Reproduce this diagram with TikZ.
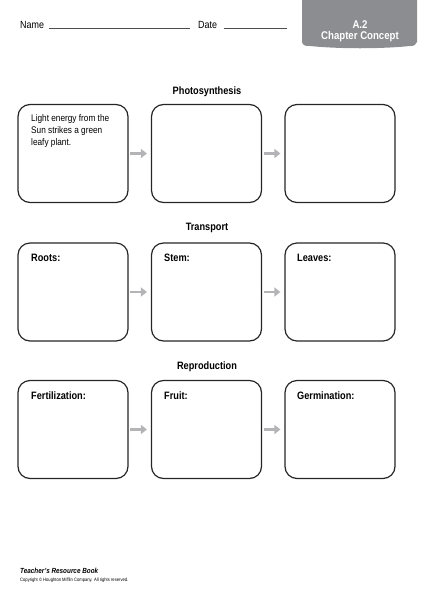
\documentclass[tikz,border=0pt]{standalone}
\usepackage{fontspec}
\setmainfont[FakeStretch=0.86]{Liberation Sans}
\usepackage{tikz}
\usetikzlibrary{arrows.meta,positioning,calc}

\definecolor{tabgray}{HTML}{8C8D90}
\definecolor{arrowgray}{HTML}{B4B4B6}

\begin{document}
\begin{tikzpicture}[x=1pt, y=-1pt,
    every node/.style={font=\fontsize{10.4}{12}\selectfont, inner sep=0pt},
    stagebox/.style={draw=black!85, line width=1.2pt, rounded corners=12pt, minimum width=110pt, minimum height=98pt},
    boxlabel/.style={anchor=west, font=\fontsize{10.7}{12}\selectfont\bfseries},
    rowtitle/.style={font=\fontsize{10.7}{12}\selectfont\bfseries},
    flow/.style={-{Triangle[length=6pt,width=9pt]}, line width=2.8pt, draw=arrowgray, shorten <=1.5pt, shorten >=4pt}]
        \useasboundingbox (0,0) rectangle (431,600);

        % Header
        \node[anchor=west] (name) at (20,25) {Name};
        \draw[line width=0.5pt, black!70] (49,28) -- (190,28);
        \node[anchor=west] (date) at (198,25) {Date};
        \draw[line width=0.5pt, black!70] (224,28) -- (287,28);

        % Chapter tab
        \fill[tabgray] (302,0) -- (302,42) .. controls (303,46) and (306,46) .. (310,46)
            .. controls (340,49) and (380,49) .. (410,46)
            .. controls (414,46) and (416,45) .. (417,42) -- (417,0) -- cycle;
        \node[text=white, font=\fontsize{11.2}{12}\selectfont\bfseries] (chap) at (360,25) {A.2};
        \node[text=white, font=\fontsize{11.2}{12}\selectfont\bfseries] (concept) at (360,37) {Chapter Concept};

        % Photosynthesis
        \node[rowtitle] (photo) at (207,92) {Photosynthesis};
        \node[stagebox] (p1) at (73,153.5) {};
        \node[stagebox] (p2) at (206.5,153.5) {};
        \node[stagebox] (p3) at (340,153.5) {};
        \node[anchor=north west, align=left, font=\fontsize{9.6}{12}\selectfont] (light) at (31,114)
            {Light energy from the\\Sun strikes a green\\leafy plant.};

        % Transport
        \node[rowtitle] (trans) at (207,228) {Transport};
        \node[stagebox] (t1) at (73,292) {};
        \node[stagebox] (t2) at (206.5,292) {};
        \node[stagebox] (t3) at (340,292) {};
        \node[boxlabel] (roots) at (31,258) {Roots:};
        \node[boxlabel] (stem) at (164,258) {Stem:};
        \node[boxlabel] (leaves) at (297,258) {Leaves:};

        % Reproduction
        \node[rowtitle] (repro) at (207,367) {Reproduction};
        \node[stagebox] (r1) at (73,429.5) {};
        \node[stagebox] (r2) at (206.5,429.5) {};
        \node[stagebox] (r3) at (340,429.5) {};
        \node[boxlabel] (fert) at (31,396) {Fertilization:};
        \node[boxlabel] (fruit) at (164,396) {Fruit:};
        \node[boxlabel] (germ) at (297,396) {Germination:};

        \draw[flow] (p1) -- (p2);
        \draw[flow] (p2) -- (p3);
        \draw[flow] (t1) -- (t2);
        \draw[flow] (t2) -- (t3);
        \draw[flow] (r1) -- (r2);
        \draw[flow] (r2) -- (r3);

        % Footer
        \node[anchor=west, font=\fontsize{7.4}{8}\selectfont\bfseries\itshape] (book) at (20,571) {Teacher's Resource Book};
        \node[anchor=west, font=\fontsize{4.8}{5}\selectfont] (copy) at (20,580) {Copyright © Houghton Mifflin Company. All rights reserved.};
    \end{tikzpicture}
\end{document}
